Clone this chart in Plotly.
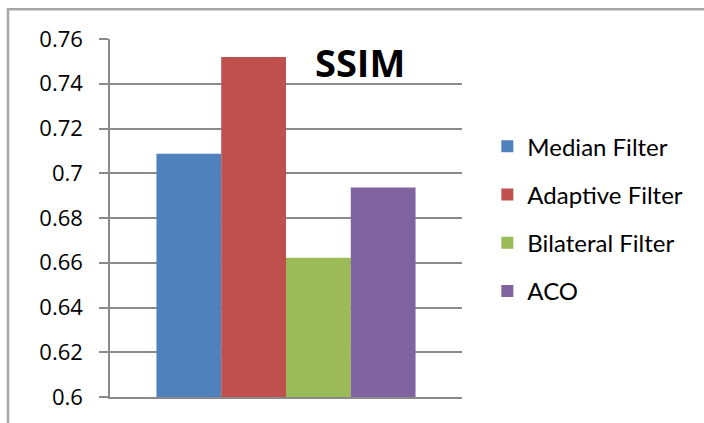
import plotly.graph_objects as go

series = ["Median Filter", "Adaptive Filter", "Bilateral Filter", "ACO"]
values = [0.7087, 0.7519, 0.6622, 0.6936]
colors = ["#4F81BD", "#C0504D", "#9BBB59", "#8064A2"]
category = ["SSIM"]
tick_vals = [0.6, 0.62, 0.64, 0.66, 0.68, 0.7, 0.72, 0.74, 0.76]
tick_text = ["0.6", "0.62", "0.64", "0.66", "0.68", "0.7", "0.72", "0.74", "0.76"]

FONT = "Open Sans"
LEG_FONT = "Lato"
GRID = "#8a8a8a"

fig = go.Figure()
for name, v, c in zip(series, values, colors):
    fig.add_trace(go.Bar(x=category, y=[v], name=name, marker=dict(color=c, line=dict(width=0)),
                         legendgroup=name))

fig.update_layout(
    width=704, height=423,
    margin=dict(l=110, r=242, t=39, b=23),
    paper_bgcolor="white", plot_bgcolor="white",
    barmode="group", bargap=0.264, bargroupgap=0,
    font=dict(family=FONT, color="black"),
    showlegend=True,
    legend=dict(x=1.072, y=0.762, xanchor="left", yanchor="top",
                font=dict(family=LEG_FONT, size=24, color="black"),
                tracegroupgap=14, bgcolor="rgba(0,0,0,0)"),
    xaxis=dict(range=[-0.5, 0.5], showticklabels=False, showgrid=False,
               showline=True, linecolor=GRID, linewidth=1.5, ticks="", zeroline=False),
    yaxis=dict(range=[0.6, 0.76], tickvals=tick_vals, ticktext=tick_text,
               showgrid=True, gridcolor=GRID, gridwidth=1.5,
               showline=True, linecolor=GRID, linewidth=1.5,
               ticks="outside", ticklen=9, tickcolor=GRID, tickwidth=1.5,
               ticklabelstandoff=12,
               tickfont=dict(family=FONT, size=22, color="black"), zeroline=False),
    shapes=[dict(type="rect", xref="paper", yref="paper",
                 x0=-0.2898, x1=1.75, y0=-0.12, y1=1.083,
                 line=dict(color="#a6a6a6", width=2.5), fillcolor="rgba(0,0,0,0)", layer="above")],
    annotations=[dict(text="<b>SSIM</b>", xref="paper", yref="paper", x=0.71, y=0.936,
                      xanchor="center", yanchor="middle", showarrow=False,
                      font=dict(family=FONT, size=38, color="black"))],
)

fig.write_html("out.html")
